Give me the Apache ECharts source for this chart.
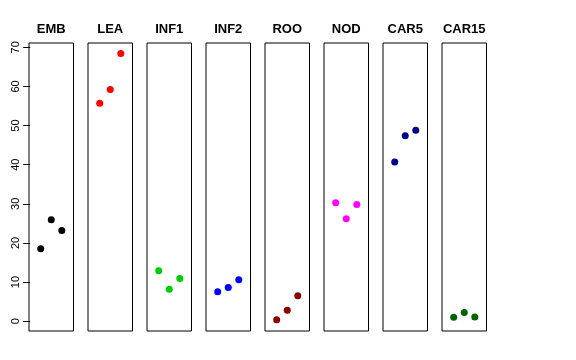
<!DOCTYPE html>
<html>
<head>
<meta charset="utf-8">
<script src="https://cdn.jsdelivr.net/npm/echarts@6/dist/echarts.min.js"></script>
<style>
html,body{margin:0;padding:0;background:#fff;}
#chart{width:576px;height:360px;}
</style>
</head>
<body>
<div id="chart"></div>
<script>
var categories = ['EMB', 'LEA', 'INF1', 'INF2', 'ROO', 'NOD', 'CAR5', 'CAR15'];
var colors = ['#000000', '#FF0000', '#00CD00', '#0000FF', '#8B0000', '#FF00FF', '#00008B', '#006400'];
var EMB = [18.5, 25.9, 23.2];
var LEA = [55.7, 59.2, 68.4];
var INF1 = [12.9, 8.2, 10.9];
var INF2 = [7.5, 8.6, 10.6];
var ROO = [0.4, 2.8, 6.5];
var NOD = [30.3, 26.2, 29.8];
var CAR5 = [40.7, 47.4, 48.8];
var CAR15 = [1.0, 2.2, 1.1];
var yTicks = [0, 10, 20, 30, 40, 50, 60, 70];
var seriesValues = [EMB, LEA, INF1, INF2, ROO, NOD, CAR5, CAR15];

var chart = echarts.init(document.getElementById('chart'), null, {renderer: 'canvas'});
var grids = [], xAxes = [], yAxes = [], series = [], graphics = [];
var panelLeft = 29, panelStep = 59, panelW = 44.5, panelTop = 43, panelH = 288;
for (var i = 0; i < categories.length; i++) {
  var left = panelLeft + panelStep * i;
  grids.push({left: left, top: panelTop, width: panelW, height: panelH,
    show: true, borderColor: '#000', borderWidth: 1, backgroundColor: 'transparent', containLabel: false});
  xAxes.push({type: 'value', gridIndex: i, min: -0.11, max: 4.11, show: false});
  yAxes.push({type: 'value', gridIndex: i, min: -2.5, max: 71.1,
    show: i === 0,
    axisLine: {show: false},
    axisTick: {show: i === 0, length: 7, lineStyle: {color: '#000'}, customValues: yTicks},
    axisLabel: {show: i === 0, rotate: 90, margin: 8, fontSize: 11, color: '#000',
      fontFamily: 'Liberation Sans, Arial, sans-serif', customValues: yTicks},
    splitLine: {show: false}});
  var vals = seriesValues[i];
  series.push({type: 'scatter', xAxisIndex: i, yAxisIndex: i, symbol: 'circle', symbolSize: 7,
    itemStyle: {color: colors[i], opacity: 1}, silent: true, animation: false,
    data: vals.map(function (v, j) { return [j + 1, v]; })});
  graphics.push({type: 'text', x: left + panelW / 2, y: 29,
    style: {text: categories[i], fill: '#000', font: 'bold 13px "Liberation Sans", Arial, sans-serif',
      textAlign: 'center', textVerticalAlign: 'middle'}});
}
chart.setOption({
  animation: false,
  backgroundColor: '#fff',
  grid: grids,
  xAxis: xAxes,
  yAxis: yAxes,
  series: series,
  graphic: graphics
});
</script>
</body>
</html>
